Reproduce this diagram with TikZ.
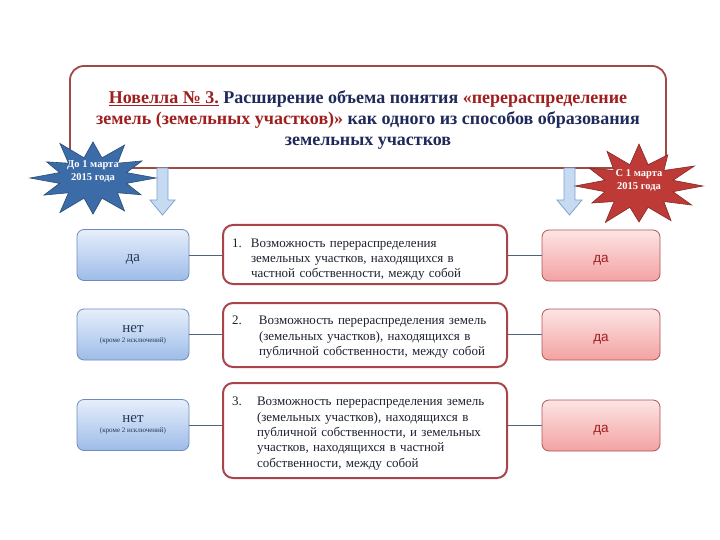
\documentclass[tikz,border=0pt]{standalone}
\usepackage{fontspec}
\setmainfont{Liberation Serif}
\newfontfamily\sansf{Liberation Sans}
\definecolor{titlered}{HTML}{9E4B46}
\definecolor{navy}{HTML}{1F2A5A}
\definecolor{darkred}{HTML}{A01E1E}
\definecolor{starblue}{HTML}{3C6CA8}
\definecolor{starred}{HTML}{BE3A36}
\definecolor{arrowfill}{HTML}{C6DAF2}
\definecolor{arrowdraw}{HTML}{7FA3D1}
\definecolor{midborder}{HTML}{A8444A}
\definecolor{bluetop}{HTML}{E6EFFB}
\definecolor{bluebot}{HTML}{9DBCE8}
\definecolor{blueedge}{HTML}{6E8CBA}
\definecolor{pinktop}{HTML}{FDE4E4}
\definecolor{pinkbot}{HTML}{F3A2A2}
\definecolor{pinkedge}{HTML}{B05555}
\definecolor{linecol}{HTML}{4D6380}
\definecolor{bodytext}{HTML}{1E2230}
\definecolor{lefttext}{HTML}{243657}
\newcommand{\lowerby}[2]{\raisebox{-#1}[\height][\depth]{#2}}
\begin{document}
\begin{tikzpicture}[x=1pt,y=-1pt,
  leftbox/.style={draw=blueedge, line width=0.8pt, rounded corners=7pt, top color=bluetop, bottom color=bluebot, minimum width=112pt, minimum height=51pt, inner sep=0pt, text=lefttext, align=center},
  rightbox/.style={draw=pinkedge, line width=0.8pt, rounded corners=7pt, top color=pinktop, bottom color=pinkbot, minimum width=118pt, minimum height=51pt, inner sep=0pt, text=darkred, font=\sansf\fontsize{13.5}{15}\selectfont},
  midbox/.style={draw=midborder, line width=2pt, rounded corners=10pt, fill=white, minimum width=284pt, text width=266pt, inner xsep=9pt, inner ysep=0pt, align=left, text=bodytext, font=\fontsize{13}{15.3}\selectfont},
  conn/.style={draw=linecol, line width=0.7pt},
  startext/.style={text=white, align=center, font=\fontsize{10.5}{13}\selectfont\bfseries},
  downarrow/.style={fill=arrowfill, draw=arrowdraw, line width=0.8pt}
]
\useasboundingbox (0,0) rectangle (720,540);
\fill[white] (0,0) rectangle (720,540);

% title box
\node[draw=titlered, line width=1.8pt, rounded corners=14pt, fill=white, minimum width=596pt, minimum height=102pt] (title) at (368,117) {};
\node[align=center, font=\fontsize{18}{21}\selectfont\bfseries, text=navy] (titletext) at (368,120)
 {\textcolor{darkred}{\underline{Новелла № 3.}} Расширение объема понятия \textcolor{darkred}{«перераспределение}\\
  \textcolor{darkred}{земель (земельных участков)»} как одного из способов образования\\
  земельных участков};

% arrows
\path[downarrow] (157,168) -- (168,168) -- (168,200) -- (175,200) -- (162.5,215) -- (150,200) -- (157,200) -- cycle;
\path[downarrow] (564,168) -- (575,168) -- (575,200) -- (582,200) -- (569.5,215) -- (557,200) -- (564,200) -- cycle;

% stars
\path[fill=starblue, draw=starblue!70!black, line width=0.6pt] (156,178)
  \foreach \a/\r in {15/0.55,30/0.88,45/0.55,60/1.0,75/0.55,90/0.95,105/0.55,120/1.05,135/0.55,150/0.9,165/0.55,180/1.0,195/0.55,210/0.85,225/0.55,240/1.05,255/0.55,270/0.95,285/0.55,300/1.0,315/0.55,330/0.9,345/0.55}
  { -- ({93+63*\r*cos(\a)},{178+38*\r*sin(\a)}) } -- cycle;
\path[fill=starred, draw=starred!70!black, line width=0.6pt] (703,186)
  \foreach \a/\r in {15/0.55,30/0.95,45/0.55,60/1.0,75/0.55,90/0.9,105/0.55,120/1.05,135/0.55,150/0.85,165/0.55,180/1.0,195/0.55,210/0.9,225/0.55,240/1.0,255/0.55,270/1.05,285/0.55,300/0.9,315/0.55,330/1.0,345/0.55}
  { -- ({639+64*\r*cos(\a)},{186+40*\r*sin(\a)}) } -- cycle;
\node[startext] (startleft) at (93,171) {До 1 марта\\2015 года};
\node[startext] (startright) at (639,180) {С 1 марта\\2015 года};

% left boxes
\node[leftbox, font=\fontsize{15}{17}\selectfont] (l1) at (133,255) {\lowerby{4pt}{да}};
\node[leftbox] (l2) at (133,334.5) {{\fontsize{15}{15}\selectfont нет}\\[-2pt]{\fontsize{7}{8}\selectfont (кроме 2 исключений)}};
\node[leftbox] (l3) at (133,425) {{\fontsize{15}{15}\selectfont нет}\\[-2pt]{\fontsize{7}{8}\selectfont (кроме 2 исключений)}};

% middle boxes
\node[midbox, minimum height=59pt] (m1) at (365,254.5) {\lowerby{5pt}{\begin{tabular}{@{}p{19pt}@{}l@{}}1.&Возможность перераспределения\\&земельных участков, находящихся в\\&частной собственности, между собой\end{tabular}}};
\node[midbox, minimum height=64pt] (m2) at (365,335) {\lowerby{2pt}{\begin{tabular}{@{}p{27pt}@{}l@{}}2.&Возможность перераспределения земель\\&(земельных участков), находящихся в\\&публичной собственности, между собой\end{tabular}}};
\node[midbox, minimum height=95pt] (m3) at (365,430.5) {\lowerby{3pt}{\begin{tabular}{@{}p{25pt}@{}l@{}}3.&Возможность перераспределения земель\\&(земельных участков), находящихся в\\&публичной собственности, и земельных\\&участков, находящихся в частной\\&собственности, между собой\end{tabular}}};

% right boxes
\node[rightbox] (r1) at (601,255.5) {\lowerby{5pt}{да}};
\node[rightbox] (r2) at (601,334.5) {\lowerby{5pt}{да}};
\node[rightbox] (r3) at (601,425.5) {\lowerby{5pt}{да}};

% connectors
\draw[conn] (l1.east) -- (l1.east -| m1.west);
\draw[conn] (l2.east) -- (l2.east -| m2.west);
\draw[conn] (l3.east) -- (l3.east -| m3.west);
\draw[conn] (r1.west -| m1.east) -- (r1.west);
\draw[conn] (r2.west -| m2.east) -- (r2.west);
\draw[conn] (r3.west -| m3.east) -- (r3.west);
\end{tikzpicture}
\end{document}
